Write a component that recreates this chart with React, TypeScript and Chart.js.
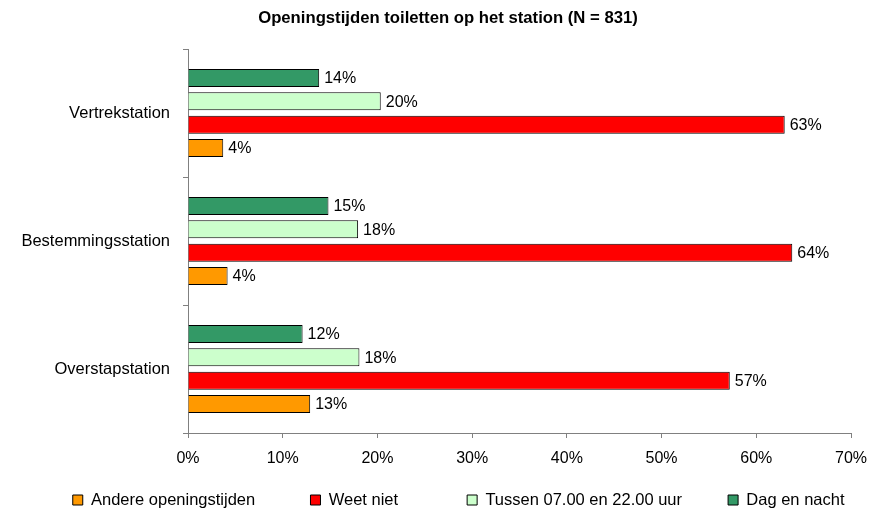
import React, { useEffect, useRef } from "react";
import { Chart, registerables } from "chart.js";

Chart.register(...registerables);

const categories = ["Vertrekstation", "Bestemmingsstation", "Overstapstation"];
const seriesNames = ["Dag en nacht", "Tussen 07.00 en 22.00 uur", "Weet niet", "Andere openingstijden"];
const dagEnNacht = [13.85, 14.83, 12.1];
const tussen = [20.35, 17.96, 18.1];
const weetNiet = [63.0, 63.8, 57.2];
const andere = [3.72, 4.18, 12.9];
const xTicks = [0, 10, 20, 30, 40, 50, 60, 70];
const titleText = "Openingstijden toiletten op het station (N = 831)";

const FONT = "'Liberation Sans', Arial, sans-serif";
// extra spacing after each legend entry (in spaces), legend shown reversed
const legendGapSpaces: Record<string, number> = {
  "Andere openingstijden": 9,
  "Weet niet": 12,
  "Tussen 07.00 en 22.00 uur": 7,
  "Dag en nacht": 6,
};

export default function App() {
  const ref = useRef<HTMLCanvasElement | null>(null);

  useEffect(() => {
    if (!ref.current) return;
    const colors = ["#339966", "#CCFFCC", "#FF0000", "#FF9900"];
    const values = [dagEnNacht, tussen, weetNiet, andere];

    const labelPlugin = {
      id: "barLabels",
      afterDatasetsDraw(chart: any) {
        const ctx = chart.ctx;
        ctx.save();
        ctx.font = `16px ${FONT}`;
        ctx.fillStyle = "#000";
        ctx.textBaseline = "middle";
        ctx.textAlign = "left";
        chart.data.datasets.forEach((ds: any, i: number) => {
          const meta = chart.getDatasetMeta(i);
          meta.data.forEach((el: any, j: number) => {
            ctx.fillText(Math.round(ds.data[j]) + "%", el.x + 5, el.y + 1);
          });
        });
        ctx.restore();
      },
    };

    const chart = new Chart(ref.current, {
      type: "bar",
      data: {
        labels: categories,
        datasets: seriesNames.map((name, i) => ({
          label: name,
          data: values[i],
          backgroundColor: colors[i],
          borderColor: "#000",
          borderWidth: 1,
          categoryPercentage: 0.73,
          barPercentage: 0.77,
        })),
      },
      options: {
        indexAxis: "y",
        animation: false,
        responsive: true,
        maintainAspectRatio: false,
        layout: { padding: { left: 10, right: 0, top: 0, bottom: -8.25 } },
        scales: {
          x: {
            min: 0,
            max: 70,
            afterBuildTicks: (s: any) => {
              s.ticks = xTicks.map((v) => ({ value: v }));
            },
            grid: {
              drawOnChartArea: false,
              drawTicks: true,
              tickLength: 5,
              color: "#808080",
            },
            border: { color: "#808080", width: 1 },
            ticks: {
              color: "#000",
              padding: 11,
              font: { family: FONT, size: 16 },
              callback: (v: any) => v + "%",
            },
            afterFit: (s: any) => {
              s.height = 44.75;
            },
          },
          y: {
            grid: {
              drawOnChartArea: false,
              drawTicks: true,
              tickLength: 5,
              color: "#808080",
              offset: true,
            },
            border: { color: "#808080", width: 1 },
            ticks: {
              color: "#000",
              padding: 13,
              font: { family: FONT, size: 16.5 },
            },
            afterFit: (s: any) => {
              s.width = 178;
            },
          },
          yr: {
            type: "category",
            position: "right",
            display: true,
            grid: { display: false },
            border: { display: false },
            ticks: { display: false },
            afterFit: (s: any) => {
              s.width = 35;
            },
          },
        },
        plugins: {
          title: {
            display: true,
            text: titleText,
            color: "#000",
            font: { family: FONT, size: 16.7, weight: "bold", lineHeight: 1.2 },
            padding: { top: 8, bottom: 21 },
          },
          legend: {
            position: "bottom",
            align: "end",
            reverse: true,
            labels: {
              boxWidth: 10,
              boxHeight: 10,
              padding: 14,
              color: "#000",
              font: { family: FONT, size: 16.5 },
              generateLabels: (c: any) => {
                const items = Chart.defaults.plugins.legend.labels.generateLabels(c);
                return items.map((it: any) => ({
                  ...it,
                  text: it.text + " ".repeat(legendGapSpaces[it.text] || 0),
                }));
              },
            },
          },
          tooltip: { enabled: false },
        },
      },
      plugins: [labelPlugin],
    } as any);

    return () => chart.destroy();
  }, []);

  return (
    <div style={{ position: "absolute", left: 0, top: 0, width: 886, height: 510, background: "#fff" }}>
      <canvas ref={ref} />
    </div>
  );
}
